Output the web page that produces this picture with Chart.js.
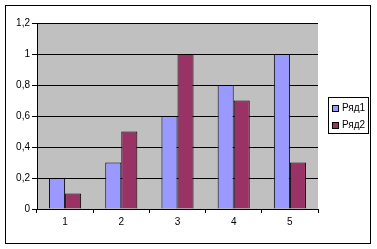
<!DOCTYPE html>
<html>
<head>
<meta charset="utf-8">
<script src="https://cdn.jsdelivr.net/npm/chart.js@4/dist/chart.umd.min.js"></script>
<style>
  html, body { margin: 0; padding: 0; background: #fff; }
  #wrap { width: 377px; height: 249px; position: relative; }
</style>
</head>
<body>
<div id="wrap"><canvas id="c"></canvas></div>
<script>
const categories = ['1', '2', '3', '4', '5']
const series1 = [0.2, 0.3, 0.6, 0.8, 1.0]
const series2 = [0.1, 0.5, 1.0, 0.7, 0.3]
const seriesNames = ['Ряд1', 'Ряд2']
const yMin = 0, yMax = 1.2, yStep = 0.2

const FONT = { family: '"Liberation Sans", Arial, sans-serif', size: 10 }
const COLS = ['#9999ff', '#993366']

// excel-ish frame: white bg, outer border, gray plot area
const frame = {
  id: 'frame',
  beforeDraw(chart) {
    const { ctx, chartArea: a } = chart
    ctx.save()
    ctx.fillStyle = '#fff'
    ctx.fillRect(0, 0, chart.width, chart.height)
    ctx.strokeStyle = '#000'
    ctx.lineWidth = 1
    ctx.strokeRect(5.5, 5.5, 365, 238)
    ctx.fillStyle = '#c0c0c0'
    ctx.fillRect(a.left, a.top, a.right - a.left, a.bottom - a.top)
    ctx.restore()
  },
  afterDraw(chart) {
    // legend box
    const { ctx } = chart
    ctx.save()
    ctx.fillStyle = '#fff'
    ctx.fillRect(328, 97, 40, 36)
    ctx.strokeStyle = '#000'
    ctx.lineWidth = 1
    ctx.strokeRect(328.5, 97.5, 40, 36)
    ctx.font = FONT.size + 'px ' + FONT.family
    ctx.textBaseline = 'middle'
    chart.data.datasets.forEach((ds, i) => {
      const y = 108 + i * 17
      ctx.fillStyle = ds.backgroundColor
      ctx.fillRect(332, y - 3, 6, 6)
      ctx.strokeRect(332.5, y - 2.5, 6, 6)
      ctx.fillStyle = '#000'
      ctx.fillText(ds.label, 342, y)
    })
    ctx.restore()
  }
}

new Chart(document.getElementById('c'), {
  type: 'bar',
  data: {
    labels: categories,
    datasets: [
      { label: seriesNames[0], data: series1, backgroundColor: COLS[0], borderColor: '#000', borderWidth: 1 },
      { label: seriesNames[1], data: series2, backgroundColor: COLS[1], borderColor: '#000', borderWidth: 1 },
    ],
  },
  options: {
    responsive: true, maintainAspectRatio: false, animation: false,
    layout: { padding: { left: 0, top: 23, right: 59, bottom: 0 } },
    categoryPercentage: 0.571, barPercentage: 1.0,
    plugins: { legend: { display: false }, tooltip: { enabled: false } },
    scales: {
      x: {
        afterFit: s => { s.height = 40 },
        grid: { display: true, drawOnChartArea: false, offset: true, color: '#000', tickLength: 4 },
        border: { color: '#000' },
        ticks: { color: '#000', font: FONT, padding: 3 },
      },
      y: {
        min: yMin, max: yMax,
        afterFit: s => { s.width = 37 },
        grid: { color: '#000', tickLength: 5 },
        border: { color: '#000' },
        ticks: {
          stepSize: yStep, color: '#000', font: FONT, padding: 2,
          callback: v => String(Number(v.toFixed(1))).replace('.', ','),
        },
      },
    },
  },
  plugins: [frame],
})
</script>
</body>
</html>
